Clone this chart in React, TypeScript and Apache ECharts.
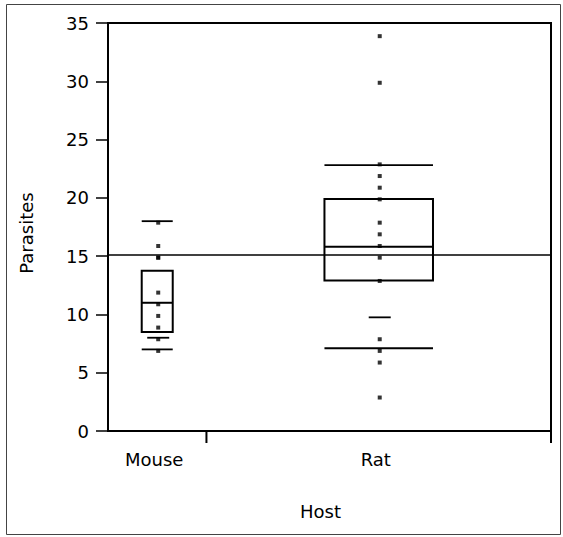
import React, { useEffect, useRef } from "react";
import * as echarts from "echarts";

// ---- data ----
const categories = ["Mouse", "Rat"];
const groupCounts = [10, 35]; // group widths on the x axis are proportional to these
const mouseValues = [18, 16, 15, 15, 12, 11, 10, 9, 8, 7];
const ratValues = [34, 30, 23, 22, 21, 20, 18, 17, 16, 15, 13, 8, 7, 6, 3];
// quantile boxes: [p10, q1, median, q3, p90]
const mouseQuantiles = [7, 8.5, 11, 13.75, 18];
const ratQuantiles = [7.1, 12.9, 15.8, 19.9, 22.8];
const shortMarks = [8, 9.75];
const grandMean = 15.1;
const yTicks = { min: 0, max: 35, interval: 5 };
const axisTitleX = "Host";
const axisTitleY = "Parasites";

const FONT = "'DejaVu Sans', Verdana, sans-serif";

export default function App() {
  const ref = useRef<HTMLDivElement>(null);

  useEffect(() => {
    document.body.style.margin = "0";
    if (!ref.current) return;
    const chart = echarts.init(ref.current, null, { renderer: "svg" });

    const total = groupCounts.reduce((a, b) => a + b, 0);
    const starts: number[] = [];
    let acc = 0;
    groupCounts.forEach((c) => {
      starts.push(acc);
      acc += c;
    });
    const centers = groupCounts.map((c, i) => starts[i] + c / 2);
    const quantiles = [mouseQuantiles, ratQuantiles];
    const boxData = groupCounts.map((c, i) => [
      starts[i],
      starts[i] + c,
      ...quantiles[i],
      shortMarks[i],
    ]);
    const groupValues = [mouseValues, ratValues];
    const pointData: number[][] = [];
    groupValues.forEach((vals, i) => vals.forEach((v) => pointData.push([centers[i], v])));

    const option: any = {
      animation: false,
      backgroundColor: "#fff",
      grid: {
        left: 108,
        top: 23,
        right: 12,
        bottom: 106,
        show: true,
        borderColor: "#000",
        borderWidth: 2,
      },
      xAxis: {
        type: "value",
        min: 0,
        max: total,
        axisLine: { show: true, lineStyle: { color: "#000", width: 2 } },
        axisTick: { show: false },
        axisLabel: { show: false },
        splitLine: { show: false },
      },
      yAxis: {
        type: "value",
        min: yTicks.min,
        max: yTicks.max,
        interval: yTicks.interval,
        axisLine: { show: true, lineStyle: { color: "#000", width: 2 } },
        axisTick: { show: true, length: 12, lineStyle: { color: "#000", width: 1.5 } },
        axisLabel: { margin: 19, fontSize: 18, fontFamily: FONT, color: "#000" },
        splitLine: { show: false },
      },
      graphic: [
        {
          type: "rect",
          shape: { x: 6.5, y: 4.5, width: 554, height: 530 },
          style: { fill: "none", stroke: "#444", lineWidth: 1 },
          silent: true,
        },
        {
          type: "text",
          x: 320.5,
          y: 511,
          style: {
            text: axisTitleX,
            font: `18px ${FONT}`,
            fill: "#000",
            align: "center",
            verticalAlign: "middle",
          },
        },
        {
          type: "text",
          x: 26,
          y: 233,
          rotation: Math.PI / 2,
          style: {
            text: axisTitleY,
            font: `18px ${FONT}`,
            fill: "#000",
            align: "center",
            verticalAlign: "middle",
          },
        },
      ],
      series: [
        {
          type: "custom",
          data: boxData,
          clip: false,
          z: 3,
          renderItem: (params: any, api: any) => {
            const x0 = api.coord([api.value(0), 0])[0];
            const x1 = api.coord([api.value(1), 0])[0];
            const axisY = api.coord([0, 0])[1];
            const y = (v: number) => api.coord([0, v])[1];
            const cx = (x0 + x1) / 2;
            const w = (x1 - x0) * 0.315;
            const h = w / 2;
            const p10 = api.value(2);
            const q1 = api.value(3);
            const med = api.value(4);
            const q3 = api.value(5);
            const p90 = api.value(6);
            const sm = api.value(7);
            const stroke = { stroke: "#000", lineWidth: 2, fill: "none" };
            const hline = (v: number, a: number, b: number, lw = 2) => ({
              type: "line",
              shape: { x1: a, y1: y(v), x2: b, y2: y(v) },
              style: { stroke: "#000", lineWidth: lw },
            });
            return {
              type: "group",
              children: [
                {
                  type: "rect",
                  shape: { x: cx - h, y: y(q3), width: w, height: y(q1) - y(q3) },
                  style: stroke,
                },
                hline(med, cx - h, cx + h),
                hline(p10, cx - h, cx + h, 1.8),
                hline(p90, cx - h, cx + h, 1.8),
                hline(sm, cx - 10, cx + 12, 1.8),
                {
                  type: "line",
                  shape: { x1: x1, y1: axisY, x2: x1, y2: axisY + 12 },
                  style: { stroke: "#000", lineWidth: 2 },
                },
                {
                  type: "text",
                  x: cx - 3,
                  y: axisY + 28,
                  style: {
                    text: categories[params.dataIndex],
                    font: `18px ${FONT}`,
                    fill: "#000",
                    align: "center",
                    verticalAlign: "middle",
                  },
                },
              ],
            };
          },
        },
        {
          type: "scatter",
          data: pointData,
          symbol: "rect",
          symbolSize: 4,
          symbolOffset: [1, 1.5],
          itemStyle: { color: "#000" },
          z: 4,
          markLine: {
            silent: true,
            symbol: "none",
            label: { show: false },
            lineStyle: { color: "#000", width: 1.5, type: "solid" },
            data: [{ yAxis: grandMean }],
          },
        },
      ],
    };

    chart.setOption(option);
    return () => chart.dispose();
  }, []);

  return <div ref={ref} style={{ width: 563, height: 537 }} />;
}
